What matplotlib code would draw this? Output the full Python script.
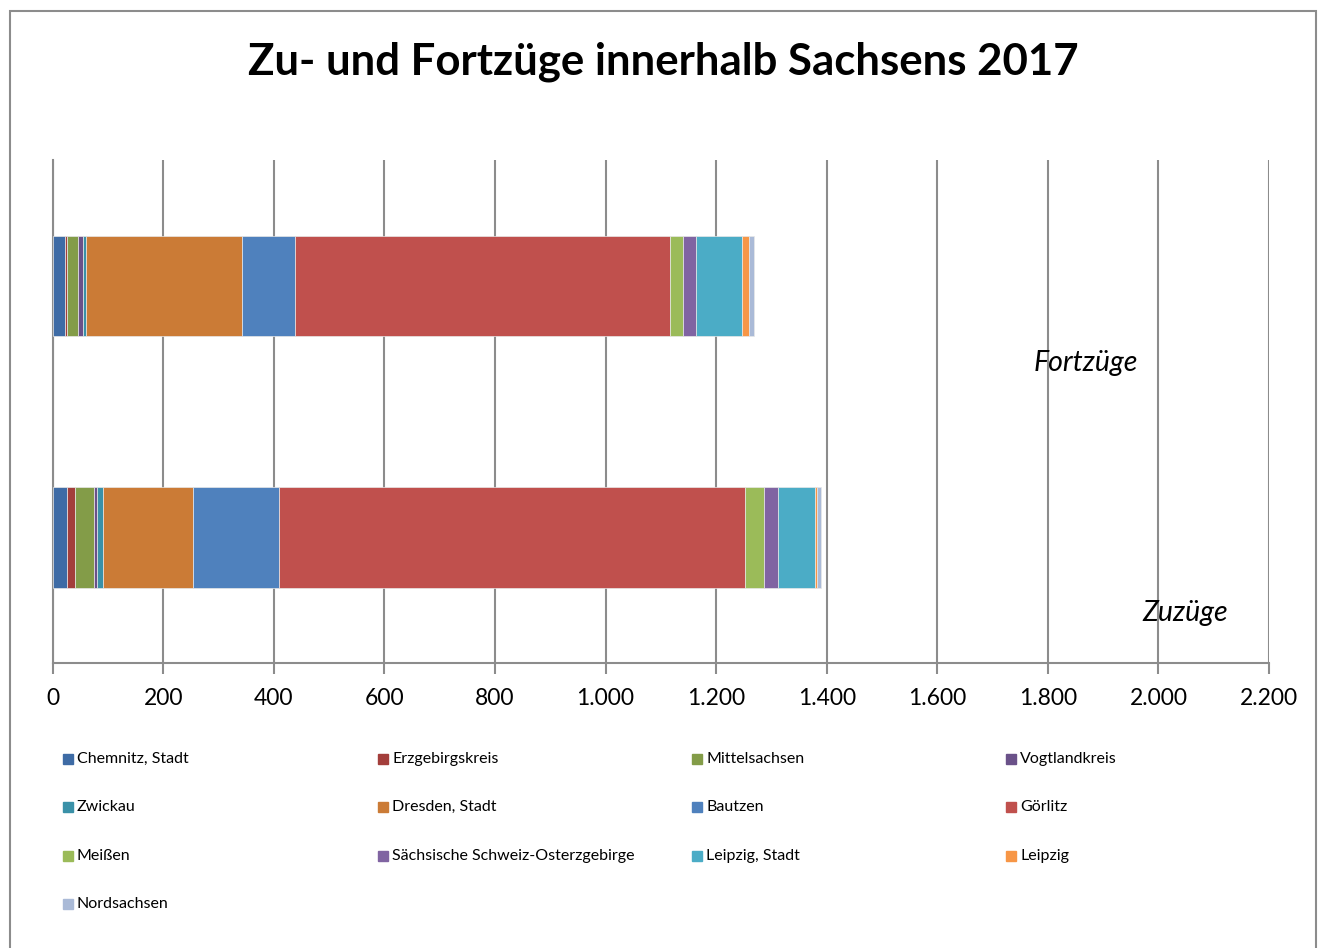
import matplotlib
matplotlib.use("Agg")
import matplotlib.pyplot as plt
from matplotlib.patches import Rectangle
from matplotlib.ticker import FuncFormatter

plt.rcParams['font.family'] = ['Lato', 'DejaVu Sans']

# Kategorien (von unten nach oben)
kategorien = ['Zuzüge', 'Fortzüge']

kreise = ['Chemnitz, Stadt', 'Erzgebirgskreis', 'Mittelsachsen', 'Vogtlandkreis',
          'Zwickau', 'Dresden, Stadt', 'Bautzen', 'Görlitz', 'Meißen',
          'Sächsische Schweiz-Osterzgebirge', 'Leipzig, Stadt', 'Leipzig',
          'Nordsachsen']

# Werte je Kreis: [Zuzüge, Fortzüge]
zuzuege = [26, 14, 35, 5, 11, 163, 156, 842, 35, 24, 67, 5, 6]
fortzuege = [23, 3, 20, 9, 6, 282, 95, 679, 23, 24, 82, 14, 8]

farben = ['#3E6BA5', '#A33E3B', '#839C48', '#6A5189', '#3A91A8', '#CB7B36',
          '#4F81BD', '#C0504D', '#9BBB59', '#8064A2', '#4BACC6', '#F79646',
          '#AABAD7']

xticks = list(range(0, 2201, 200))

fig = plt.figure(figsize=(13.21, 9.48), dpi=100)

# Rahmen um das Diagramm
fig.patches.append(Rectangle((9.5 / 1321, -0.01), (1316 - 9.5) / 1321, (948 - 10.5) / 948 + 0.01,
                             transform=fig.transFigure, fill=False,
                             edgecolor='#8c8c8c', linewidth=1.5))

ax = fig.add_axes([52.7 / 1321, (948 - 663.3) / 948, 1216.3 / 1321, 502.8 / 948])

links = [0, 0]
for i, name in enumerate(kreise):
    werte = [zuzuege[i], fortzuege[i]]
    ax.barh(range(len(kategorien)), werte, left=links, height=0.4,
            color=farben[i], edgecolor='#e8e8e8', linewidth=0.5, zorder=3)
    links = [links[0] + werte[0], links[1] + werte[1]]

ax.set_xlim(0, 2200)
ax.set_ylim(-0.5, 1.5)
ax.set_xticks(xticks)
ax.xaxis.set_major_formatter(FuncFormatter(lambda v, p: f'{int(v):,}'.replace(',', '.')))
ax.set_yticks([])
ax.tick_params(axis='x', length=8, width=1.5, color='#8c8c8c', labelsize=16.5, pad=10)
ax.grid(axis='x', color='#8c8c8c', linewidth=1.5, zorder=0)
for s in ['top', 'right']:
    ax.spines[s].set_visible(False)
for s in ['left', 'bottom']:
    ax.spines[s].set_color('#8c8c8c')
    ax.spines[s].set_linewidth(1.5)

ax.text(0.8496, 0.597, 'Fortzüge', transform=ax.transAxes, ha='center', va='center',
        fontsize=20.5, style='italic')
ax.text(0.9313, 0.100, 'Zuzüge', transform=ax.transAxes, ha='center', va='center',
        fontsize=20.5, style='italic')

fig.text(663 / 1321, 1 - 62 / 948, 'Zu- und Fortzüge innerhalb Sachsens 2017',
         ha='center', va='center', fontsize=31.5, fontweight='bold')

# Legende, zeilenweise wie im Original
spalten_x = [63, 378, 692, 1006]
for i, name in enumerate(kreise):
    zeile, spalte = divmod(i, 4)
    x = spalten_x[spalte]
    y = 759 + zeile * 48.3
    fig.patches.append(Rectangle((x / 1321, 1 - (y + 5) / 948), 10 / 1321, 10 / 948,
                                 transform=fig.transFigure, color=farben[i]))
    fig.text((x + 14) / 1321, 1 - y / 948, name, ha='left', va='center', fontsize=11.5)

fig.savefig('out.png', dpi=100)
